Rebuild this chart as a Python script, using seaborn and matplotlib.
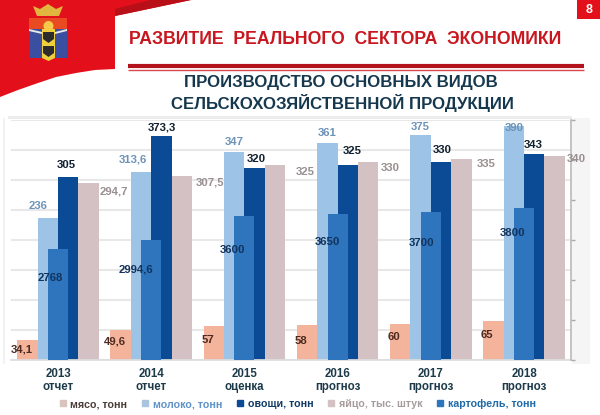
import numpy as np
import pandas as pd
import seaborn as sns
import matplotlib.pyplot as plt
from matplotlib.patches import Polygon, Rectangle, Circle
from matplotlib.lines import Line2D

years = ["2013\nотчет", "2014\nотчет", "2015\nоценка", "2016\nпрогноз", "2017\nпрогноз", "2018\nпрогноз"]
meat = [34.1, 49.6, 57, 58, 60, 65]
milk = [236, 313.6, 347, 361, 375, 390]
veg = [305, 373.3, 320, 325, 330, 343]
eggs = [294.7, 307.5, 325, 330, 335, 340]
potato = [2768, 2994.6, 3600, 3650, 3700, 3800]

meat_txt = ["34,1", "49,6", "57", "58", "60", "65"]
milk_txt = ["236", "313,6", "347", "361", "375", "390"]
veg_txt = ["305", "373,3", "320", "325", "330", "343"]
eggs_txt = ["294,7", "307,5", "325", "330", "335", "340"]
potato_txt = ["2768", "2994,6", "3600", "3650", "3700", "3800"]

names = ["мясо, тонн", "молоко, тонн", "овощи, тонн", "яйцо, тыс. штук", "картофель, тонн"]
colors = ["#f4b49c", "#9dc3e6", "#0b4a94", "#d3c1c3", "#2e75bd"]

sns.set_theme(style="white")
plt.rcParams['font.family'] = ['Liberation Sans', 'DejaVu Sans']

fig = plt.figure(figsize=(6, 4.15), dpi=100, facecolor="white")

# decoration layer in pixel coordinates
bg = fig.add_axes([0, 0, 1, 1])
bg.set_xlim(0, 600)
bg.set_ylim(415, 0)
bg.axis("off")
curve = [(115, 69), (95, 70), (76, 73), (56, 77), (38, 83), (18, 90), (0, 97)]
bg.add_patch(Polygon([(0, 0), (191, 0), (115, 16)] + curve, color="#e3101c", lw=0))
bg.add_patch(Polygon([(115, 16), (191, 0), (150, 0), (115, 9)], color="#b80f18", lw=0))
bg.add_patch(Rectangle((572, 118), 18, 246, color="#f5f5f5", lw=0))
bg.add_patch(Rectangle((8, 116), 564, 3, color="#ececec", lw=0))
bg.add_patch(Rectangle((3, 118), 2, 246, color="#f2f2f2", lw=0))
# page number
bg.add_patch(Rectangle((577, 0), 23, 19, color="#e3101c", lw=0))
# coat of arms
bg.add_patch(Rectangle((29, 18), 38, 11, color="#ea4a22", lw=0))
bg.add_patch(Rectangle((29, 29), 38, 29, color="#3a4f9f", lw=0))
bg.add_patch(Polygon([(29, 29), (42, 32), (42, 34), (29, 31)], color="#e8e8e8", lw=0))
bg.add_patch(Polygon([(67, 29), (55, 32), (55, 34), (67, 31)], color="#e8e8e8", lw=0))
bg.add_patch(Polygon([(42, 29), (55, 29), (55, 58), (48.5, 61), (42, 58)], color="#f0cf3c", lw=0))
bg.add_patch(Circle((48.5, 26), 5, color="#f6c94a", lw=0))
bg.add_patch(Polygon([(33, 6), (40, 9), (48, 4), (56, 9), (63, 6), (59, 16), (37, 16)], color="#e0b640", lw=0))
for y0 in [37, 51]:
    bg.add_patch(Polygon([(43, y0 - 5), (54, y0 - 5), (54, y0 + 2), (48.5, y0 + 6), (43, y0 + 2)], color="#2c2c2c", lw=0))

bg.text(129, 40, "РАЗВИТИЕ  РЕАЛЬНОГО  СЕКТОРА  ЭКОНОМИКИ", color="#c8171f", fontsize=12.7,
        ha="left", va="center", fontweight="bold")
bg.plot([128, 584], [66, 66], color="#b3121c", lw=3, solid_capstyle="butt")
bg.plot([128, 584], [70, 70], color="#d9484f", lw=1, solid_capstyle="butt")
bg.text(589, 10, "8", color="white", fontsize=9, ha="center", va="center", fontweight="bold")
bg.text(341, 83, "ПРОИЗВОДСТВО ОСНОВНЫХ ВИДОВ", color="#16384f", fontsize=12.1,
        ha="center", va="center", fontweight="bold")
bg.text(342, 103, "СЕЛЬСКОХОЗЯЙСТВЕННОЙ ПРОДУКЦИИ", color="#16384f", fontsize=12.1,
        ha="center", va="center", fontweight="bold")

# chart
ax = fig.add_axes([11.4 / 600, (415 - 360) / 415, 559.2 / 600, 240 / 415])
ax.patch.set_alpha(0)
df = pd.DataFrame({"year": years * 4,
                   "value": meat + milk + veg + eggs,
                   "series": sum([[n] * 6 for n in names[:4]], [])})
sns.barplot(data=df, x="year", y="value", hue="series", hue_order=names[:4], palette=colors[:4],
            width=0.876, gap=0, saturation=1, linewidth=0, legend=False, ax=ax, zorder=2)
ax.set_ylim(0, 400)
ax.set_xlim(-0.5, 5.5)
ax.set_yticks(np.arange(0, 401, 50))
ax.set_yticklabels([])
ax.set_xlabel("")
ax.set_ylabel("")
ax.grid(axis="y", color="#e8e8e8", lw=1.5)
ax.set_axisbelow(True)
ax.tick_params(axis="x", length=0, pad=6)
ax.tick_params(axis="y", length=0, left=False)
ax.set_xticks(range(6))
ax.set_xticklabels(years, fontsize=8.3, fontweight="bold", color="#1d3a4a", linespacing=1.05)
for s in ax.spines.values():
    s.set_visible(False)
ax.spines["bottom"].set_visible(True)
ax.spines["bottom"].set_color("#dddddd")

ax2 = ax.twinx()
sns.barplot(x=years, y=potato, color=colors[4], width=0.215, saturation=1, linewidth=0, ax=ax2, zorder=3)
ax2.set_ylim(0, 6000)
ax2.set_xlim(-0.5, 5.5)
ax2.set_yticks(np.arange(0, 6001, 1000))
ax2.set_yticklabels([])
ax2.tick_params(axis="y", length=3, width=1, color="#aaaaaa", right=True, left=False)
for s in ax2.spines.values():
    s.set_visible(False)
ax2.spines["right"].set_visible(True)
ax2.spines["right"].set_color("#bbbbbb")


def put_labels(coords, x_shift, values, texts, dx, dy, color, fontsize=8.2):
    # everything is drawn on ax2 so the labels stay above the potato bars
    for i, (v, t) in enumerate(zip(values, texts)):
        ax2.annotate(t, xy=(i + x_shift, v), xycoords=coords, xytext=(dx[i], dy[i]),
                     textcoords="offset pixels", ha="center", va="center", color=color,
                     fontsize=fontsize, fontweight="bold", zorder=6, annotation_clip=False)


step = 0.219
put_labels(ax.transData, -1.5 * step, meat, meat_txt, [-6] * 6, [-10, -11, -14, -16, -13, -14], "#4d2a20")
put_labels(ax.transData, -0.5 * step, milk, milk_txt, [-10, -8, 0, 0, 0, 0], [12, 12, 10, 10, 8, -2], "#6d93b8")
put_labels(ax.transData, 0.5 * step, veg, veg_txt, [-2, 0, 2, 4, 1, -1], [12, 9, 9, 14, 12, 9], "#10202e")
put_labels(ax.transData, 1.5 * step, eggs, eggs_txt, [25, 28, 30, 22, 25, 22], [-8, -7, -7, -6, -5, -3], "#9a8f90")
put_labels(ax2.transData, 0, potato, potato_txt, [-8, -15, -12, -10, -9, -11], [-29, -29, -34, -28, -31, -25], "#12335c")

# legend
legend_colors = ["#4a3c38", "#5f93c8", "#123a66", "#a79c9d", "#1f6aa8"]
marker_colors = ["#d8c4bc", "#a8c4de", "#0b4a94", "#d3c1c3", "#2e75bd"]
handles = [Line2D([], [], marker="s", ls="", ms=4, color=c) for c in marker_colors]
leg = fig.legend(handles, names, ncol=5, loc="center", bbox_to_anchor=(294 / 600, (415 - 404) / 415),
                 frameon=False, handletextpad=-0.3, columnspacing=0.68,
                 prop={"size": 7.7, "weight": "bold"})
for txt, c in zip(leg.get_texts(), legend_colors):
    txt.set_color(c)

fig.savefig("out.png", dpi=100)
